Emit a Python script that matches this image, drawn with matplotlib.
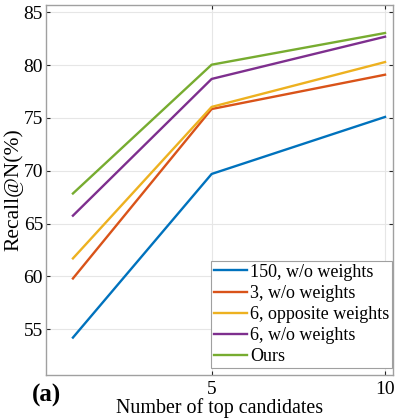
import matplotlib.pyplot as plt

x_vals = [1, 5, 10]
labels = ["150, w/o weights", "3, w/o weights", "6, opposite weights", "6, w/o weights", "Ours"]
recall_150 = [54.2, 69.7, 75.1]
recall_3 = [59.8, 75.85, 79.1]
recall_6_opp = [61.7, 76.05, 80.3]
recall_6 = [65.75, 78.7, 82.7]
recall_ours = [67.85, 80.05, 83.05]
colors = ["#0072BD", "#D95319", "#EDB120", "#7E2F8E", "#77AC30"]

plt.rcParams['font.family'] = ['Liberation Serif', 'DejaVu Serif']

fig = plt.figure(figsize=(3.99, 4.2), dpi=100)
ax = fig.add_axes([0.115, 0.107, 0.87, 0.881])

series = [recall_150, recall_3, recall_6_opp, recall_6, recall_ours]
for vals, lab, c in zip(series, labels, colors):
    ax.plot(x_vals, vals, color=c, linewidth=1.7, label=lab)

ax.set_xlim(0.22, 10.23)
ax.set_ylim(50.65, 85.7)
ax.set_xticks([5, 10])
ax.set_yticks([55, 60, 65, 70, 75, 80, 85])
ax.grid(True, color='#e6e6e6', linewidth=0.8)
ax.set_axisbelow(True)
ax.tick_params(direction='in', top=True, right=True, labelsize=14,
               color='#262626', length=3, pad=2)
ax.tick_params(axis='x', pad=4)
for s in ax.spines.values():
    s.set_color('#a0a0a0')
    s.set_linewidth(1)

ax.set_xlabel("Number of top candidates", fontsize=14.4, labelpad=0.5)
ax.set_ylabel("Recall@N(%)", fontsize=15.5, labelpad=0)

leg = ax.legend(loc='lower right', bbox_to_anchor=(392 / 399, 1 - 368 / 420),
                bbox_transform=fig.transFigure, borderaxespad=0,
                fontsize=13, handlelength=1.85, handletextpad=0.17,
                borderpad=0.15, labelspacing=0.23, fancybox=False,
                edgecolor='#a0a0a0', framealpha=1)
leg.get_frame().set_linewidth(0.8)

fig.text(0.08, 0.058, "(a)", fontsize=18, fontweight='bold', va='center')

fig.savefig("out.png", dpi=100)
